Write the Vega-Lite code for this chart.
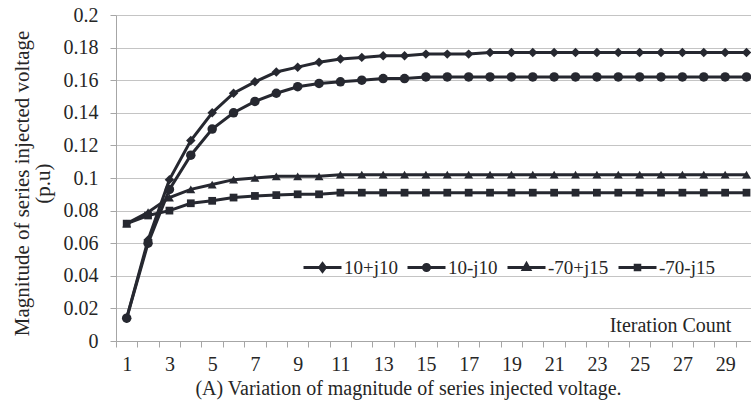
{
  "$schema": "https://vega.github.io/schema/vega-lite/v6.json",
  "width": 635,
  "height": 326,
  "autosize": "none",
  "padding": {"left": 116, "top": 15, "right": 0, "bottom": 65},
  "background": "white",
  "config": {
    "view": {"stroke": null},
    "font": "Liberation Serif",
    "axis": {"labelFont": "Liberation Serif", "titleFont": "Liberation Serif", "labelColor": "#262626", "titleColor": "#262626", "titleFontWeight": "normal", "domainColor": "#a6a6a6", "tickColor": "#a6a6a6", "gridColor": "#c4c4c4", "labelFontSize": 20, "titleFontSize": 20}
  },
  "title": {"text": "(A) Variation of magnitude of series injected voltage.", "orient": "bottom", "anchor": "middle", "dx": -25, "offset": 5, "font": "Liberation Serif", "fontSize": 20, "fontWeight": "normal", "color": "#262626"},
  "data": {"values": [
    {"it":1,"s":"10+j10","v":0.014},{"it":2,"s":"10+j10","v":0.062},{"it":3,"s":"10+j10","v":0.099},{"it":4,"s":"10+j10","v":0.123},{"it":5,"s":"10+j10","v":0.140},{"it":6,"s":"10+j10","v":0.152},{"it":7,"s":"10+j10","v":0.159},{"it":8,"s":"10+j10","v":0.165},{"it":9,"s":"10+j10","v":0.168},{"it":10,"s":"10+j10","v":0.171},{"it":11,"s":"10+j10","v":0.173},{"it":12,"s":"10+j10","v":0.174},{"it":13,"s":"10+j10","v":0.175},{"it":14,"s":"10+j10","v":0.175},{"it":15,"s":"10+j10","v":0.176},{"it":16,"s":"10+j10","v":0.176},{"it":17,"s":"10+j10","v":0.176},{"it":18,"s":"10+j10","v":0.177},{"it":19,"s":"10+j10","v":0.177},{"it":20,"s":"10+j10","v":0.177},{"it":21,"s":"10+j10","v":0.177},{"it":22,"s":"10+j10","v":0.177},{"it":23,"s":"10+j10","v":0.177},{"it":24,"s":"10+j10","v":0.177},{"it":25,"s":"10+j10","v":0.177},{"it":26,"s":"10+j10","v":0.177},{"it":27,"s":"10+j10","v":0.177},{"it":28,"s":"10+j10","v":0.177},{"it":29,"s":"10+j10","v":0.177},{"it":30,"s":"10+j10","v":0.177},
    {"it":1,"s":"10-j10","v":0.014},{"it":2,"s":"10-j10","v":0.060},{"it":3,"s":"10-j10","v":0.093},{"it":4,"s":"10-j10","v":0.114},{"it":5,"s":"10-j10","v":0.130},{"it":6,"s":"10-j10","v":0.140},{"it":7,"s":"10-j10","v":0.147},{"it":8,"s":"10-j10","v":0.152},{"it":9,"s":"10-j10","v":0.156},{"it":10,"s":"10-j10","v":0.158},{"it":11,"s":"10-j10","v":0.159},{"it":12,"s":"10-j10","v":0.160},{"it":13,"s":"10-j10","v":0.161},{"it":14,"s":"10-j10","v":0.161},{"it":15,"s":"10-j10","v":0.162},{"it":16,"s":"10-j10","v":0.162},{"it":17,"s":"10-j10","v":0.162},{"it":18,"s":"10-j10","v":0.162},{"it":19,"s":"10-j10","v":0.162},{"it":20,"s":"10-j10","v":0.162},{"it":21,"s":"10-j10","v":0.162},{"it":22,"s":"10-j10","v":0.162},{"it":23,"s":"10-j10","v":0.162},{"it":24,"s":"10-j10","v":0.162},{"it":25,"s":"10-j10","v":0.162},{"it":26,"s":"10-j10","v":0.162},{"it":27,"s":"10-j10","v":0.162},{"it":28,"s":"10-j10","v":0.162},{"it":29,"s":"10-j10","v":0.162},{"it":30,"s":"10-j10","v":0.162},
    {"it":1,"s":"-70+j15","v":0.072},{"it":2,"s":"-70+j15","v":0.079},{"it":3,"s":"-70+j15","v":0.088},{"it":4,"s":"-70+j15","v":0.093},{"it":5,"s":"-70+j15","v":0.096},{"it":6,"s":"-70+j15","v":0.099},{"it":7,"s":"-70+j15","v":0.100},{"it":8,"s":"-70+j15","v":0.101},{"it":9,"s":"-70+j15","v":0.101},{"it":10,"s":"-70+j15","v":0.101},{"it":11,"s":"-70+j15","v":0.102},{"it":12,"s":"-70+j15","v":0.102},{"it":13,"s":"-70+j15","v":0.102},{"it":14,"s":"-70+j15","v":0.102},{"it":15,"s":"-70+j15","v":0.102},{"it":16,"s":"-70+j15","v":0.102},{"it":17,"s":"-70+j15","v":0.102},{"it":18,"s":"-70+j15","v":0.102},{"it":19,"s":"-70+j15","v":0.102},{"it":20,"s":"-70+j15","v":0.102},{"it":21,"s":"-70+j15","v":0.102},{"it":22,"s":"-70+j15","v":0.102},{"it":23,"s":"-70+j15","v":0.102},{"it":24,"s":"-70+j15","v":0.102},{"it":25,"s":"-70+j15","v":0.102},{"it":26,"s":"-70+j15","v":0.102},{"it":27,"s":"-70+j15","v":0.102},{"it":28,"s":"-70+j15","v":0.102},{"it":29,"s":"-70+j15","v":0.102},{"it":30,"s":"-70+j15","v":0.102},
    {"it":1,"s":"-70-j15","v":0.072},{"it":2,"s":"-70-j15","v":0.077},{"it":3,"s":"-70-j15","v":0.080},{"it":4,"s":"-70-j15","v":0.0845},{"it":5,"s":"-70-j15","v":0.086},{"it":6,"s":"-70-j15","v":0.088},{"it":7,"s":"-70-j15","v":0.089},{"it":8,"s":"-70-j15","v":0.0895},{"it":9,"s":"-70-j15","v":0.090},{"it":10,"s":"-70-j15","v":0.090},{"it":11,"s":"-70-j15","v":0.091},{"it":12,"s":"-70-j15","v":0.091},{"it":13,"s":"-70-j15","v":0.091},{"it":14,"s":"-70-j15","v":0.091},{"it":15,"s":"-70-j15","v":0.091},{"it":16,"s":"-70-j15","v":0.091},{"it":17,"s":"-70-j15","v":0.091},{"it":18,"s":"-70-j15","v":0.091},{"it":19,"s":"-70-j15","v":0.091},{"it":20,"s":"-70-j15","v":0.091},{"it":21,"s":"-70-j15","v":0.091},{"it":22,"s":"-70-j15","v":0.091},{"it":23,"s":"-70-j15","v":0.091},{"it":24,"s":"-70-j15","v":0.091},{"it":25,"s":"-70-j15","v":0.091},{"it":26,"s":"-70-j15","v":0.091},{"it":27,"s":"-70-j15","v":0.091},{"it":28,"s":"-70-j15","v":0.091},{"it":29,"s":"-70-j15","v":0.091},{"it":30,"s":"-70-j15","v":0.091}
  ]},
  "encoding": {
    "x": {"field": "it", "type": "quantitative",
      "scale": {"domain": [0.5, 30.21], "nice": false, "zero": false},
      "axis": {"title": "Iteration Count", "titleX": 554, "titleY": -16, "titleAlign": "center", "titleBaseline": "middle", "titleAngle": 0,
        "values": [0.5,1.5,2.5,3.5,4.5,5.5,6.5,7.5,8.5,9.5,10.5,11.5,12.5,13.5,14.5,15.5,16.5,17.5,18.5,19.5,20.5,21.5,22.5,23.5,24.5,25.5,26.5,27.5,28.5,29.5],
        "labelExpr": "(datum.value + 0.5) % 2 == 1 ? format(datum.value + 0.5, 'd') : ''",
        "labelOffset": 10.7, "labelOverlap": false, "labelFlush": false, "grid": false, "tickSize": 6, "labelPadding": 7}},
    "y": {"field": "v", "type": "quantitative",
      "scale": {"domain": [0, 0.2], "nice": false},
      "axis": {"title": ["Magnitude of series injected voltage", "(p.u)"], "titleX": -94, "titleY": 168, "titleAngle": -90, "titleAlign": "center", "titleBaseline": "middle", "titleLineHeight": 21, "titleFontSize": 21,
        "values": [0,0.02,0.04,0.06,0.08,0.1,0.12,0.14,0.16,0.18,0.2], "format": "~g", "tickSize": 6, "labelPadding": 12, "grid": true}}
  },
  "layer": [
    {"mark": {"type": "line", "strokeWidth": 3},
     "encoding": {
       "color": {"field": "s", "type": "nominal",
         "scale": {"domain": ["10+j10", "10-j10", "-70+j15", "-70-j15"], "range": ["#262830", "#262830", "#262830", "#262830"]},
         "legend": {"title": null, "orient": "none", "legendX": 186, "legendY": 232, "direction": "horizontal", "columns": 4, "gridAlign": "none", "columnPadding": 3,
           "symbolSize": 1444, "symbolStrokeWidth": 3, "labelFont": "Liberation Serif", "labelFontSize": 19, "labelColor": "#262626", "labelOffset": 1,
           "encode": {"symbols": {"update": {
             "fill": {"value": "#262830"},
             "stroke": {"value": "#262830"},
             "strokeWidth": {"value": 3},
             "size": {"value": 1444},
             "shape": {"signal": "datum.value === '10+j10' ? 'M-1,0H1M0,-0.2L0.15,0L0,0.2L-0.15,0Z' : datum.value === '10-j10' ? 'M-1,0H1M0.16,0A0.16,0.16 0 1,1 -0.16,0A0.16,0.16 0 1,1 0.16,0Z' : datum.value === '-70+j15' ? 'M-1,0H1M0,-0.2L0.17,0.1L-0.17,0.1Z' : 'M-1,0H1M-0.12,-0.12H0.12V0.12H-0.12Z'"}
           }}}}}}},
    {"transform": [{"filter": "datum.s === '10+j10'"}],
     "mark": {"type": "point", "filled": true, "opacity": 1, "color": "#262830", "shape": "diamond", "size": 90}},
    {"transform": [{"filter": "datum.s === '10-j10'"}],
     "mark": {"type": "point", "filled": true, "opacity": 1, "color": "#262830", "shape": "circle", "size": 90}},
    {"transform": [{"filter": "datum.s === '-70+j15'"}],
     "mark": {"type": "point", "filled": true, "opacity": 1, "color": "#262830", "shape": "triangle-up", "size": 80}},
    {"transform": [{"filter": "datum.s === '-70-j15'"}],
     "mark": {"type": "point", "filled": true, "opacity": 1, "color": "#262830", "shape": "square", "size": 60}}
  ]
}
